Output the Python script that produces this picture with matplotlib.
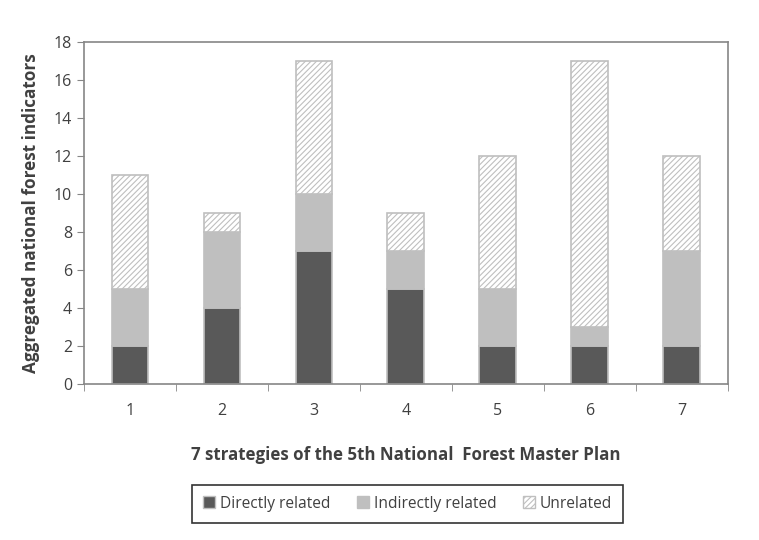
import numpy as np
import matplotlib
matplotlib.use("Agg")
import matplotlib.pyplot as plt
from matplotlib.patches import Patch

strategies = ["1", "2", "3", "4", "5", "6", "7"]
directly = [2, 4, 7, 5, 2, 2, 2]
indirectly = [3, 4, 3, 2, 3, 1, 5]
unrelated = [6, 1, 7, 2, 7, 14, 5]

plt.rcParams['font.family'] = ['Open Sans', 'DejaVu Sans']
plt.rcParams['hatch.color'] = '#a0a0a0'
plt.rcParams['hatch.linewidth'] = 0.8

fig = plt.figure(figsize=(7.59, 5.4), dpi=100)
ax = fig.add_axes([0.1107, 0.289, 0.848, 0.633])

x = np.arange(len(strategies))
w = 0.4
edge = '#bfbfbf'
d = np.array(directly)
i = np.array(indirectly)
u = np.array(unrelated)

ax.bar(x, d, w, color='#595959', edgecolor=edge, linewidth=1.2)
ax.bar(x, i, w, bottom=d, color='#bfbfbf', edgecolor=edge, linewidth=1.2)
ax.bar(x, u, w, bottom=d + i, color='white', edgecolor=edge, linewidth=1.2,
       hatch='//////')

ax.set_xlim(-0.5, len(strategies) - 0.5)
ax.set_ylim(0, 18)
ax.set_yticks(range(0, 19, 2))
ax.set_xticks(x)
ax.set_xticklabels(strategies)
# ticks sit between categories, like excel does it
ax.set_xticks(np.arange(-0.5, len(strategies), 1), minor=True)
ax.tick_params(axis='x', which='major', length=0, pad=14, labelsize=11.5, labelcolor='#404040')
ax.tick_params(axis='x', which='minor', length=5, color='#868686', direction='out')
ax.tick_params(axis='y', length=5, color='#868686', labelsize=11.5, labelcolor='#404040')

for s in ax.spines.values():
    s.set_color('#868686')
    s.set_linewidth(1.2)

ax.set_ylabel('Aggregated national forest indicators', fontsize=12.3, fontweight='bold',
              color='#404040', labelpad=10)
ax.set_xlabel('7 strategies of the 5th National  Forest Master Plan', fontsize=12.2,
              fontweight='bold', color='#404040', labelpad=19)

handles = [Patch(facecolor='#595959', edgecolor=edge),
           Patch(facecolor='#bfbfbf', edgecolor=edge),
           Patch(facecolor='white', edgecolor=edge, hatch='//////')]
leg = fig.legend(handles, ['Directly related', 'Indirectly related', 'Unrelated'],
                 loc='center', bbox_to_anchor=(0.537, 0.067), ncol=3, frameon=True,
                 fancybox=False, edgecolor='black', fontsize=11.2, handlelength=0.8,
                 handleheight=0.8, handletextpad=0.3, columnspacing=1.7,
                 borderpad=0.7, labelcolor='#404040')
leg.get_frame().set_linewidth(1.2)

fig.savefig('out.png', dpi=100)
